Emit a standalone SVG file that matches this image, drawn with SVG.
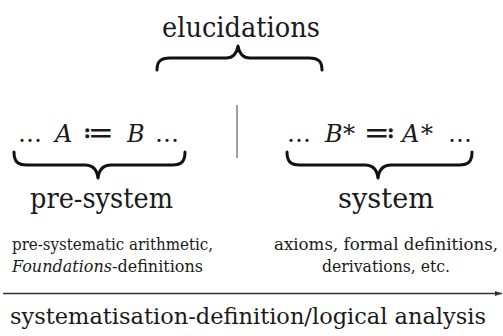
<svg xmlns="http://www.w3.org/2000/svg" width="503" height="336" viewBox="0 0 503 336">
<defs>
<style>
text{font-family:'DejaVu Serif','Liberation Serif',serif;fill:#1a1a1a}
.lbl{font-size:27px}
.small{font-size:16px}
.f{font-size:24px}
.op{font-size:31px}
.it{font-style:italic}
.brace{fill:none;stroke:#111;stroke-width:3;stroke-linecap:round;stroke-linejoin:round}
.conn{fill:none;stroke:#333;stroke-width:1.3}
</style>
<marker id="ah" markerWidth="8" markerHeight="6" refX="7" refY="3" orient="auto" markerUnits="userSpaceOnUse">
<path d="M0,0.5 L7,3 L0,5.5 Z" fill="#333"/>
</marker>
</defs>
<rect width="503" height="336" fill="#fff"/>
<g id="elucidations">
<text class="lbl" x="162" y="37" textLength="158" lengthAdjust="spacingAndGlyphs">elucidations</text>
<path class="brace" d="M157,70 C157,62 160,58 170,58 L226,58 C233,58 237,53 238,46 C239,53 243,58 250,58 L309,58 C319,58 322,62 322,70"/>
</g>
<g id="divider">
<line x1="237" y1="105" x2="237" y2="158" stroke="#8a8a8a" stroke-width="1.6"/>
</g>
<g id="pre-system">
<text class="f"><tspan x="18" y="142">…</tspan><tspan class="it" x="55" y="142">A</tspan><tspan class="op" x="82" y="143">≔</tspan><tspan class="it" x="127" y="142">B</tspan><tspan x="155" y="142">…</tspan></text>
<path class="brace" d="M14,152 C14,161 17,165 27,165 L85,165 C93,165 97,170 98,178 C99,170 103,165 111,165 L172,165 C182,165 185,161 185,152"/>
<text class="lbl" x="30" y="208" textLength="143" lengthAdjust="spacingAndGlyphs">pre-system</text>
<text class="small" x="12" y="250" textLength="201" lengthAdjust="spacingAndGlyphs">pre-systematic arithmetic,</text>
<text class="small" x="12" y="272" textLength="191" lengthAdjust="spacingAndGlyphs"><tspan class="it">Foundations</tspan>-definitions</text>
</g>
<g id="system">
<text class="f"><tspan x="287" y="142">…</tspan><tspan class="it" x="325" y="142">B</tspan><tspan x="343" y="142">*</tspan><tspan class="op" x="364" y="143">≕</tspan><tspan class="it" x="402" y="142">A</tspan><tspan x="421" y="142">*</tspan><tspan x="448" y="142">…</tspan></text>
<path class="brace" d="M287,152 C287,161 290,165 300,165 L365,165 C373,165 377,170 378,178 C379,170 383,165 391,165 L459,165 C469,165 472,161 472,152"/>
<text class="lbl" x="338" y="208" textLength="96" lengthAdjust="spacingAndGlyphs">system</text>
<text class="small" x="274" y="250" textLength="224" lengthAdjust="spacingAndGlyphs">axioms, formal definitions,</text>
<text class="small" x="322" y="272" textLength="128" lengthAdjust="spacingAndGlyphs">derivations, etc.</text>
</g>
<g id="connectors">
<line class="conn" x1="3" y1="293.5" x2="502" y2="293.5" marker-end="url(#ah)"/>
</g>
<g id="analysis">
<text x="10" y="324" font-size="23" textLength="476" lengthAdjust="spacingAndGlyphs">systematisation-definition/logical analysis</text>
</g>
</svg>
